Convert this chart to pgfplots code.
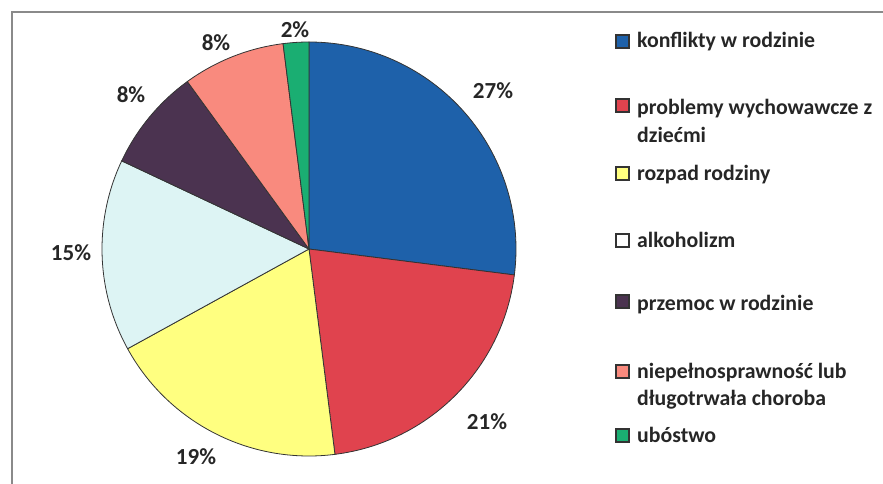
\documentclass[border=0pt]{standalone}
\usepackage{pgfplots}
\pgfplotsset{compat=1.18}
\usepackage{fontspec}
\setmainfont{Carlito}
\definecolor{cblue}{HTML}{1E61AA}
\definecolor{cred}{HTML}{E0434E}
\definecolor{cyellow}{HTML}{FFFF80}
\definecolor{ccyan}{HTML}{DDF4F4}
\definecolor{cpurple}{HTML}{4B3350}
\definecolor{csalmon}{HTML}{F98A7E}
\definecolor{cgreen}{HTML}{1AAE72}
\definecolor{edge}{HTML}{333333}
\definecolor{frame}{HTML}{8A8A8A}
\definecolor{txt}{HTML}{262626}
% values (percent), clockwise from top
\def\va{27}\def\vb{21}\def\vc{19}\def\vd{15}\def\ve{8}\def\vf{8}\def\vg{2}
\begin{document}
\begin{tikzpicture}
\useasboundingbox (0,0) rectangle (883bp,484bp);
\begin{axis}[x=1bp,y=1bp,xmin=0,xmax=883,ymin=0,ymax=484,hide axis,clip=false,
  anchor=origin,at={(0,0)}]
\def\r{207bp}
\filldraw[fill=cblue,draw=edge,line width=0.8bp] (axis cs:309,235) -- ++(90:\r)
  arc[start angle=90,end angle={90-3.6*\va},radius=\r] -- cycle;
\filldraw[fill=cred,draw=edge,line width=0.8bp] (axis cs:309,235) -- ++({90-3.6*\va}:\r)
  arc[start angle={90-3.6*\va},end angle={90-3.6*(\va+\vb)},radius=\r] -- cycle;
\filldraw[fill=cyellow,draw=edge,line width=0.8bp] (axis cs:309,235) -- ++({90-3.6*(\va+\vb)}:\r)
  arc[start angle={90-3.6*(\va+\vb)},end angle={90-3.6*(\va+\vb+\vc)},radius=\r] -- cycle;
\filldraw[fill=ccyan,draw=edge,line width=0.8bp] (axis cs:309,235) -- ++({90-3.6*(\va+\vb+\vc)}:\r)
  arc[start angle={90-3.6*(\va+\vb+\vc)},end angle={90-3.6*(\va+\vb+\vc+\vd)},radius=\r] -- cycle;
\filldraw[fill=cpurple,draw=edge,line width=0.8bp] (axis cs:309,235) -- ++({90-3.6*(\va+\vb+\vc+\vd)}:\r)
  arc[start angle={90-3.6*(\va+\vb+\vc+\vd)},end angle={90-3.6*(\va+\vb+\vc+\vd+\ve)},radius=\r] -- cycle;
\filldraw[fill=csalmon,draw=edge,line width=0.8bp] (axis cs:309,235) -- ++({90-3.6*(\va+\vb+\vc+\vd+\ve)}:\r)
  arc[start angle={90-3.6*(\va+\vb+\vc+\vd+\ve)},end angle={90-3.6*(\va+\vb+\vc+\vd+\ve+\vf)},radius=\r] -- cycle;
\filldraw[fill=cgreen,draw=edge,line width=0.8bp] (axis cs:309,235) -- ++({90-3.6*(\va+\vb+\vc+\vd+\ve+\vf)}:\r)
  arc[start angle={90-3.6*(\va+\vb+\vc+\vd+\ve+\vf)},end angle={-270},radius=\r] -- cycle;
% frame
\draw[frame,line width=2bp] (axis cs:12,0) -- (axis cs:12,472) -- (axis cs:883,472);
% data labels
\begin{scope}[every node/.style={font=\fontsize{23bp}{27bp}\selectfont\bfseries,text=txt,inner sep=0pt}]
\node at (axis cs:493,393) {27\%};
\node at (axis cs:487,62) {21\%};
\node at (axis cs:196,27) {19\%};
\node at (axis cs:71,231) {15\%};
\node at (axis cs:131,389) {8\%};
\node at (axis cs:216,441) {8\%};
\node at (axis cs:295,454) {2\%};
\end{scope}
% legend
\begin{scope}[every node/.style={font=\fontsize{21.8bp}{28bp}\selectfont\bfseries,text=txt,inner sep=0pt,anchor=base west}]
\filldraw[fill=cblue,draw=edge,line width=1.2bp] (axis cs:616,436) rectangle (axis cs:629,449);
\node at (axis cs:637,436) {konflikty w rodzinie};
\filldraw[fill=cred,draw=edge,line width=1.2bp] (axis cs:616,372) rectangle (axis cs:629,385);
\node at (axis cs:637,370) {problemy wychowawcze z};
\node at (axis cs:637,342) {dziećmi};
\filldraw[fill=cyellow,draw=edge,line width=1.2bp] (axis cs:616,304) rectangle (axis cs:629,317);
\node at (axis cs:637,304) {rozpad rodziny};
\filldraw[fill=white,draw=edge,line width=1.2bp] (axis cs:616,237) rectangle (axis cs:629,250);
\node at (axis cs:637,237) {alkoholizm};
\filldraw[fill=cpurple,draw=edge,line width=1.2bp] (axis cs:616,176) rectangle (axis cs:629,189);
\node at (axis cs:637,174) {przemoc w rodzinie};
\filldraw[fill=csalmon,draw=edge,line width=1.2bp] (axis cs:616,106) rectangle (axis cs:629,119);
\node at (axis cs:637,106) {niepełnosprawność lub};
\node at (axis cs:637,79) {długotrwała choroba};
\filldraw[fill=cgreen,draw=edge,line width=1.2bp] (axis cs:616,42) rectangle (axis cs:629,55);
\node at (axis cs:637,42) {ubóstwo};
\end{scope}
\end{axis}
\end{tikzpicture}
\end{document}
